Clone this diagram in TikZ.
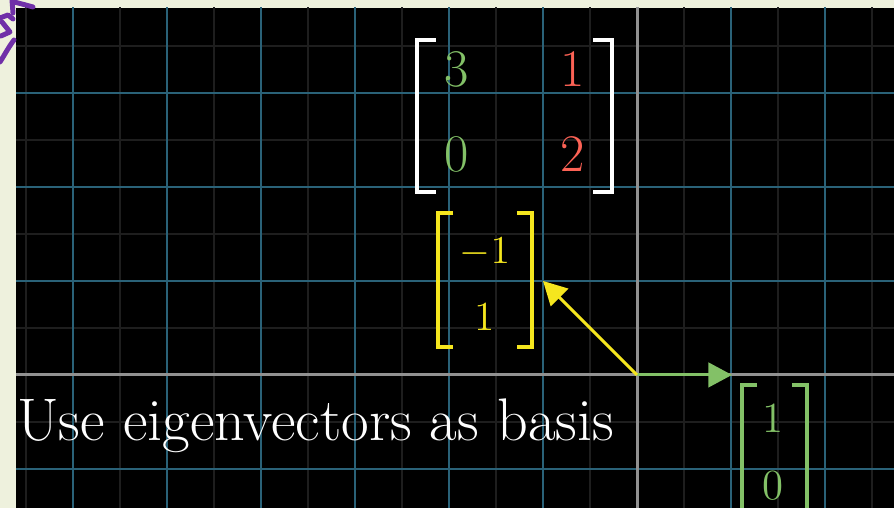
\documentclass[tikz,border=0pt]{standalone}
\usepackage{amsmath}
\usepackage{tikz}
\usetikzlibrary{arrows.meta}
\definecolor{framebg}{RGB}{238,241,221}
\definecolor{gridmajor}{RGB}{42,98,120}
\definecolor{gridminor}{RGB}{30,30,30}
\definecolor{axisgray}{RGB}{145,145,145}
\definecolor{mgreen}{RGB}{131,193,103}
\definecolor{mred}{RGB}{252,98,85}
\definecolor{myellow}{RGB}{245,230,30}
\definecolor{scribble}{RGB}{112,48,168}

\begin{document}
\begin{tikzpicture}[
    minorline/.style={gridminor, line width=0.45pt},
    majorline/.style={gridmajor, line width=0.7pt},
    axisline/.style={axisgray, line width=0.9pt},
    bracket/.style={line width=1.1pt},
    entry/.style={inner sep=0pt, anchor=center},
    vecarrow/.style={line width=0.9pt, -{Triangle[length=0.25cm, width=0.26cm]}},
    scribblepen/.style={scribble, line width=1.5pt, line cap=round, line join=round}
]
\fill[framebg] (-6.777,-1.415) rectangle (2.734,3.989);
\fill[black] (-6.606,-1.415) rectangle (2.734,3.904);
\useasboundingbox (-6.777,-1.415) rectangle (2.734,3.989);

% grid and axes
\begin{scope}
\clip (-6.606,-1.415) rectangle (2.734,3.904);
\foreach \x in {-6.5,-5.5,...,2.5} \draw[minorline] (\x,-1.5) -- (\x,4);
\foreach \y in {-0.5,0.5,...,3.5} \draw[minorline] (-7,\y) -- (3,\y);
\foreach \x in {-6,...,-1,1,2} \draw[majorline] (\x,-1.5) -- (\x,4);
\foreach \y in {-1,1,2,3} \draw[majorline] (-7,\y) -- (3,\y);
\draw[axisline] (0,-1.5) -- (0,4);
\draw[axisline] (-7,0) -- (3,0);
\end{scope}

% scribble in the corner
\begin{scope}[x=0.010638cm, y=-0.010638cm, shift={(-6.777cm,3.989cm)}]
\draw[scribblepen] (12,0) -- (13,13);
\draw[scribblepen] (14,2) .. controls (22,4) .. (33,7);
\draw[scribblepen] (0,18) -- (8,15) -- (13,19);
\draw[scribblepen] (2,22) -- (10,32) -- (1,36);
\draw[scribblepen] (14,40) .. controls (8,48) and (4,56) .. (0,62);
\end{scope}

% transformation matrix
\draw[bracket, white] (-2.14,3.564) -- (-2.34,3.564) -- (-2.34,1.947) -- (-2.14,1.947);
\draw[bracket, white] (-0.466,3.564) -- (-0.266,3.564) -- (-0.266,1.947) -- (-0.466,1.947);
\node[entry, text=mgreen, font=\fontsize{16}{18}\selectfont] (a11) at (-1.915,3.255) {3};
\node[entry, text=mred, font=\fontsize{16}{18}\selectfont] (a12) at (-0.681,3.255) {1};
\node[entry, text=mgreen, font=\fontsize{16}{18}\selectfont] (a21) at (-1.915,2.351) {0};
\node[entry, text=mred, font=\fontsize{16}{18}\selectfont] (a22) at (-0.681,2.351) {2};

% eigenvector (-1,1)
\draw[bracket, myellow] (-1.957,1.723) -- (-2.117,1.723) -- (-2.117,0.298) -- (-1.957,0.298);
\draw[bracket, myellow] (-1.277,1.723) -- (-1.117,1.723) -- (-1.117,0.298) -- (-1.277,0.298);
\node[entry, text=myellow, font=\fontsize{12.5}{14}\selectfont] (v1) at (-1.617,1.309) {$-1$};
\node[entry, text=myellow, font=\fontsize{12.5}{14}\selectfont] (v2) at (-1.617,0.617) {1};

% eigenvector (1,0)
\draw[bracket, mgreen] (1.277,-0.106) -- (1.117,-0.106) -- (1.117,-1.6);
\draw[bracket, mgreen] (1.649,-0.106) -- (1.809,-0.106) -- (1.809,-1.6);
\node[entry, text=mgreen, font=\fontsize{13}{15}\selectfont] (e1) at (1.447,-0.457) {1};
\node[entry, text=mgreen, font=\fontsize{13}{15}\selectfont] (e2) at (1.447,-1.175) {0};

\coordinate (origin) at (0,0);
\coordinate (etip) at (1.01,0);
\coordinate (vtip) at (-1,1);
\draw[vecarrow, mgreen] (origin) -- (etip);
\draw[vecarrow, myellow] (origin) -- (vtip);

\node[anchor=base west, inner sep=0pt, text=white, font=\fontsize{18.2}{20}\selectfont] (caption) at (-6.60,-0.70) {Use eigenvectors as basis};

\end{tikzpicture}
\end{document}
